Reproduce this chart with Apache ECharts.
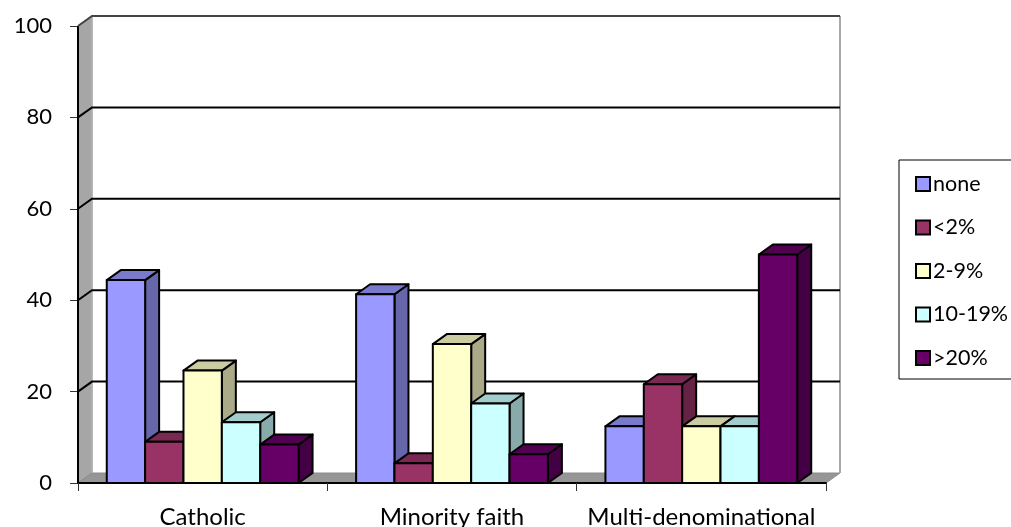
<!DOCTYPE html>
<html><head><meta charset="utf-8">
<style>html,body{margin:0;padding:0;background:#fff;overflow:hidden}#c{width:1011px;height:527px}</style>
<script src="https://cdn.jsdelivr.net/npm/echarts@6/dist/echarts.min.js"></script>
</head><body><div id="c"></div>
<script>
const categories = ['Catholic', 'Minority faith', 'Multi-denominational'];
const seriesNames = ['none', '<2%', '2-9%', '10-19%', '>20%'];
const none = [44.4, 41.3, 12.4];
const under2 = [9, 4.3, 21.6];
const from2to9 = [24.6, 30.4, 12.4];
const from10to19 = [13.3, 17.4, 12.4];
const over20 = [8.4, 6.3, 50];
const seriesValues = [none, under2, from2to9, from10to19, over20];
const frontColors = ['#9999FF', '#993366', '#FFFFCC', '#CCFFFF', '#660066'];
const topColors = ['#7A7ACC', '#7A2952', '#CCCCA3', '#A3CCCC', '#520052'];
const sideColors = ['#6666AA', '#662244', '#AAAA88', '#88AAAA', '#440044'];
const gridTicks = [20, 40, 60, 80, 100];
const DX = 14, DY = -10, FONT = 'Lato';

const chart = echarts.init(document.getElementById('c'));

function wallItem(params, api) {
  const band = api.size([1, 0])[0];
  const left = api.coord([0, 0])[0] - band / 2;
  const right = left + band * categories.length;
  const y0 = api.coord([0, 0])[1];
  const yTop = api.coord([0, 100])[1];
  const children = [
    { type: 'polygon', shape: { points: [[left, y0], [left + DX, y0 + DY], [left + DX, yTop + DY], [left, yTop]] },
      style: { fill: '#A6A6A6', stroke: '#8c8c8c', lineWidth: 1 } },
    { type: 'polygon', shape: { points: [[left, y0], [left + DX, y0 + DY], [right + DX, y0 + DY], [right, y0]] },
      style: { fill: '#969696', stroke: '#8c8c8c', lineWidth: 1 } },
    { type: 'polyline', shape: { points: [[left + DX, y0 + DY], [left + DX, yTop + DY]] },
      style: { fill: 'none', stroke: '#b5b5b5', lineWidth: 1.5 } },
    { type: 'polyline', shape: { points: [[right + DX, y0 + DY], [right + DX, yTop + DY]] },
      style: { fill: 'none', stroke: '#a8a8a8', lineWidth: 2 } },
    { type: 'polyline', shape: { points: [[left, y0], [left, yTop]] },
      style: { fill: 'none', stroke: '#000', lineWidth: 2 } }
  ];
  gridTicks.forEach(function (t) {
    const y = api.coord([0, t])[1];
    children.push({ type: 'polyline',
      shape: { points: [[left, y], [left + DX, y + DY], [right + DX, y + DY]] },
      style: { fill: 'none', stroke: t === 100 ? '#444' : '#000', lineWidth: 2 } });
  });
  return { type: 'group', children: children };
}

function barRenderer(si) {
  return function (params, api) {
    const band = api.size([1, 0])[0];
    const barW = band / 6.5;
    const cx = api.coord([api.value(0), 0])[0];
    const x0 = cx - band / 2 + barW * (0.75 + si);
    const x1 = x0 + barW;
    const yb = api.coord([0, 0])[1];
    const yt = api.coord([0, api.value(1)])[1];
    const stroke = { stroke: '#000', lineWidth: 2, lineJoin: 'round' };
    return { type: 'group', children: [
      { type: 'polygon', shape: { points: [[x1, yb], [x1 + DX, yb + DY], [x1 + DX, yt + DY], [x1, yt]] },
        style: Object.assign({ fill: sideColors[si] }, stroke) },
      { type: 'polygon', shape: { points: [[x0, yt], [x0 + DX, yt + DY], [x1 + DX, yt + DY], [x1, yt]] },
        style: Object.assign({ fill: topColors[si] }, stroke) },
      { type: 'polygon', shape: { points: [[x0, yb], [x1, yb], [x1, yt], [x0, yt]] },
        style: Object.assign({ fill: frontColors[si] }, stroke) }
    ] };
  };
}

const series = [{
  type: 'custom', name: 'walls', silent: true, clip: false, z: 1,
  renderItem: wallItem, data: [[0, 0]], encode: { x: 0, y: 1 }
}];
seriesNames.forEach(function (n, si) {
  series.push({
    type: 'custom', name: n, clip: false, z: 2,
    renderItem: barRenderer(si),
    itemStyle: { color: frontColors[si] },
    encode: { x: 0, y: 1 },
    data: seriesValues[si].map(function (v, i) { return [i, v]; })
  });
});

chart.setOption({
  animation: false,
  textStyle: { fontFamily: FONT },
  grid: { left: 78, right: 185, top: 26, bottom: 44, outerBoundsMode: 'none' },
  xAxis: {
    type: 'category', data: categories, boundaryGap: true,
    axisLine: { show: true, lineStyle: { color: '#000', width: 2 } },
    axisTick: { show: true, alignWithLabel: false, length: 8, lineStyle: { color: '#333', width: 1 } },
    axisLabel: { interval: 0, fontFamily: FONT, fontSize: 24, color: '#000', margin: 22 },
    splitLine: { show: false }, z: 3
  },
  yAxis: {
    type: 'value', min: 0, max: 100, interval: 20,
    axisLine: { show: false },
    axisTick: { show: true, length: 8, lineStyle: { color: '#333', width: 1 } },
    axisLabel: { fontFamily: FONT, fontSize: 22, color: '#000', margin: 26 },
    splitLine: { show: false }
  },
  legend: {
    orient: 'vertical', left: 899, top: 160,
    data: seriesNames, icon: 'rect', itemWidth: 14, itemHeight: 14, itemGap: 21.5,
    padding: [13, 30, 10, 16], selectedMode: false,
    borderColor: '#000', borderWidth: 1, backgroundColor: '#fff',
    itemStyle: { borderColor: '#000', borderWidth: 2 },
    textStyle: { fontFamily: FONT, fontSize: 21.5, color: '#000', padding: [0, 0, 0, -2], lineHeight: 18 }
  },
  series: series
});
</script></body></html>
